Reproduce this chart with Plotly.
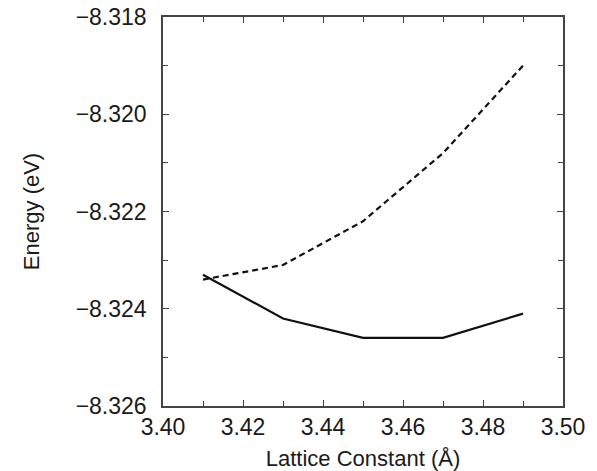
import plotly.graph_objects as go

# Lattice constants (Å) and total energies (eV) for the two structures
lattice = [3.41, 3.43, 3.45, 3.47, 3.49]
energy_dashed = [-8.3234, -8.3231, -8.3222, -8.3208, -8.3190]
energy_solid = [-8.3233, -8.3242, -8.3246, -8.3246, -8.3241]

x_ticks = [3.40, 3.42, 3.44, 3.46, 3.48, 3.50]
x_ticklabels = ["3.40", "3.42", "3.44", "3.46", "3.48", "3.50"]
y_ticks = [-8.326, -8.324, -8.322, -8.320, -8.318]
y_ticklabels = ["\u22128.326", "\u22128.324", "\u22128.322", "\u22128.320", "\u22128.318"]

font_family = "Liberation Sans, Arial, sans-serif"
text_color = "#1a1a1a"

fig = go.Figure()
fig.add_trace(go.Scatter(
    x=lattice, y=energy_dashed, mode="lines",
    line=dict(color="#111111", width=2.2, dash="6px,4px"),
    showlegend=False,
))
fig.add_trace(go.Scatter(
    x=lattice, y=energy_solid, mode="lines",
    line=dict(color="#111111", width=2.2),
    showlegend=False,
))

axis_common = dict(
    showgrid=False, zeroline=False, automargin=False,
    showline=True, linecolor="#444444", linewidth=1.5,
    mirror="ticks", ticks="inside", ticklen=6, tickwidth=1.2, tickcolor="#444444",
    tickfont=dict(family=font_family, size=23, color=text_color),
)

fig.update_xaxes(
    range=[3.40, 3.50], tickvals=x_ticks, ticktext=x_ticklabels,
    title=dict(text="Lattice Constant (\u00c5)", font=dict(family=font_family, size=22, color=text_color), standoff=12),
    minor=dict(dtick=0.01, ticks="inside", ticklen=5, tickcolor="#444444", tickwidth=1.2),
    ticklabelstandoff=0,
    **axis_common,
)
fig.update_yaxes(
    range=[-8.326, -8.318], tickvals=y_ticks, ticktext=y_ticklabels,
    title=dict(text="Energy (eV)", font=dict(family=font_family, size=22, color=text_color), standoff=30),
    minor=dict(dtick=0.001, ticks="inside", ticklen=5, tickcolor="#444444", tickwidth=1.2),
    ticklabelstandoff=10,
    **axis_common,
)

fig.update_layout(
    width=597, height=471,
    margin=dict(l=163, r=34, t=17, b=65),
    plot_bgcolor="white", paper_bgcolor="white",
)

fig.write_html("out.html")
